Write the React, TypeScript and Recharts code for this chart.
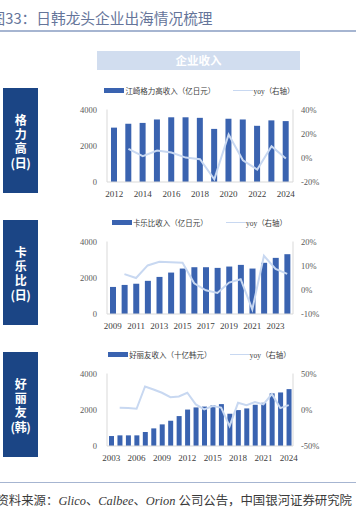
import React from "react";
import { ComposedChart, Bar, Line, XAxis, YAxis } from "recharts";

const glicoYears = ["2012","2013","2014","2015","2016","2017","2018","2019","2020","2021","2022","2023","2024"];
const glicoRevenue = [3000, 3220, 3260, 3450, 3570, 3570, 3540, 2930, 3490, 3450, 3100, 3400, 3360];
const glicoYoy = [null, 7.4, 1.3, 6.0, 4.4, 0.2, -1.2, -17.7, 19.3, -2.0, -9.7, 9.6, -0.6];

const calbeeYears = ["2009","2010","2011","2012","2013","2014","2015","2016","2017","2018","2019","2020","2021","2022","2023","2024"];
const calbeeRevenue = [1493, 1604, 1670, 1830, 2046, 2286, 2507, 2581, 2581, 2544, 2618, 2710, 2507, 2825, 3097, 3300];
const calbeeYoy = [null, 6.5, 4.9, 10.1, 11.6, 11.4, 11.2, 2.7, -0.2, -1.3, 3.0, 4.4, -8.1, 14.1, 8.7, 6.6];

const orionYears = ["2003","2004","2005","2006","2007","2008","2009","2010","2011","2012","2013","2014","2015","2016","2017","2018","2019","2020","2021","2022","2023","2024"];
const orionRevenue = [550, 587, 587, 587, 771, 972, 1193, 1394, 1651, 2010, 2128, 2175, 2239, 2312, 1780, 1982, 2073, 2275, 2385, 2905, 2954, 3138];
const orionYoy = [null, 2.8, 2.3, 1.4, 32.1, 28.0, 23.4, 17.4, 18.3, 23.4, 7.3, 0.5, 5.0, 3.0, -22.5, 9.6, 6.4, 10.6, 7.3, 21.6, 2.3, 6.4];

const leftTicks = [0, 2000, 4000];
const glicoRightTicks = [-20, 0, 20, 40];
const calbeeRightTicks = [-10, 0, 10, 20];
const orionRightTicks = [-50, 0, 50];

const titleText = "图33：日韩龙头企业出海情况梳理";
const headerText = "企业收入";
const companyLabels = ["格\n力\n高\n(日)", "卡\n乐\n比\n(日)", "好\n丽\n友\n(韩)"];
const barLegends = ["江崎格力高收入（亿日元）", "卡乐比收入（亿日元）", "好丽友收入（十亿韩元）"];
const lineLegend = "yoy（右轴）";

const BAR = "#3a63b0";
const LINE = "#c8d8f1";
const AXIS = "#d9d9d9";
const SERIF = "'Liberation Serif', 'Noto Sans CJK SC', serif";

function build(years: string[], rev: number[], yoy: (number | null)[]) {
  return years.map((y, i) => ({ year: y, rev: rev[i], yoy: yoy[i] }));
}

type PanelProps = {
  top: number;
  data: { year: string; rev: number; yoy: number | null }[];
  rightTicks: number[];
  interval: number;
  barSize: number;
  legend: string;
};

function Panel({ top, data, rightTicks, interval, barSize, legend }: PanelProps) {
  return (
    <div style={{ position: "absolute", left: 0, top, width: 356, height: 120 }}>
      <div
        style={{
          position: "absolute",
          left: 43,
          top: 5,
          width: 313,
          height: 11,
          display: "flex",
          justifyContent: "center",
          alignItems: "center",
          fontFamily: SERIF,
          fontSize: 7.5,
          color: "#404040",
          whiteSpace: "nowrap",
        }}
      >
        <span style={{ display: "inline-block", width: 20, height: 5, background: BAR }} />
        <span style={{ marginLeft: 1 }}>{legend}</span>
        <span style={{ display: "inline-block", width: 20, height: 1.5, background: LINE, marginLeft: 18 }} />
        <span>{lineLegend}</span>
      </div>
      <ComposedChart
        width={356}
        height={120}
        data={data}
        margin={{ top: 29.5, right: 0, bottom: 0, left: 0 }}
      >
        <XAxis
          dataKey="year"
          interval={interval}
          height={18}
          tickLine={false}
          tickSize={0}
          tickMargin={9}
          axisLine={{ stroke: AXIS }}
          tick={{ fontSize: 9, fill: "#404040", fontFamily: SERIF }}
        />
        <YAxis
          yAxisId="left"
          width={107}
          domain={[0, 4000]}
          ticks={leftTicks}
          tickLine={false}
          tickSize={0}
          tickMargin={10}
          axisLine={{ stroke: AXIS }}
          tick={{ fontSize: 8.5, fill: "#595959", fontFamily: SERIF }}
        />
        <YAxis
          yAxisId="right"
          orientation="right"
          width={63}
          domain={[rightTicks[0], rightTicks[rightTicks.length - 1]]}
          ticks={rightTicks}
          tickFormatter={(v: number) => `${v}%`}
          tickLine={false}
          tickSize={0}
          tickMargin={8}
          axisLine={{ stroke: AXIS }}
          tick={{ fontSize: 8.5, fill: "#595959", fontFamily: SERIF, textAnchor: "start" }}
        />
        <Bar yAxisId="left" dataKey="rev" fill={BAR} barSize={barSize} isAnimationActive={false} />
        <Line
          yAxisId="right"
          dataKey="yoy"
          type="linear"
          stroke={LINE}
          strokeWidth={2}
          dot={false}
          activeDot={false}
          isAnimationActive={false}
        />
      </ComposedChart>
    </div>
  );
}

function SideBox({ top, label }: { top: number; label: string }) {
  return (
    <div
      style={{
        position: "absolute",
        left: 3,
        top,
        width: 35,
        height: 105,
        background: "#1b4585",
      }}
    >
      <div
        style={{
          position: "absolute",
          left: 0,
          top: 24.9,
          width: 35,
          color: "#ffffff",
          fontFamily: "'Noto Sans CJK SC', sans-serif",
          fontWeight: 700,
          fontSize: 12,
          lineHeight: "14.3px",
          textAlign: "center",
          whiteSpace: "pre-line",
          letterSpacing: -0.3,
        }}
      >
        {label}
      </div>
    </div>
  );
}

export default function App() {
  return (
    <div style={{ position: "absolute", left: 0, top: 0, width: 356, height: 512, background: "#fff", overflow: "hidden" }}>
      <div
        style={{
          position: "absolute",
          left: -9.4,
          width: 400,
          top: 8,
          height: 20,
          lineHeight: "20px",
          whiteSpace: "nowrap",
          fontFamily: "'Noto Sans CJK SC', sans-serif",
          fontSize: 14.7,
          color: "#65759a",
        }}
      >
        {titleText}
      </div>
      <div style={{ position: "absolute", left: 0, top: 30, width: 356, height: 1.5, background: "#a6b5d1" }} />
      <div
        style={{
          position: "absolute",
          left: 97,
          top: 51,
          width: 203,
          height: 18.5,
          background: "#d1ddef",
          color: "#fff",
          fontFamily: "'Noto Sans CJK SC', sans-serif",
          fontWeight: 700,
          fontSize: 11.5,
          lineHeight: "18.5px",
          textAlign: "center",
        }}
      >
        {headerText}
      </div>
      <SideBox top={88} label={companyLabels[0]} />
      <SideBox top={220} label={companyLabels[1]} />
      <SideBox top={352} label={companyLabels[2]} />
      <Panel top={80} data={build(glicoYears, glicoRevenue, glicoYoy)} rightTicks={glicoRightTicks} interval={1} barSize={6} legend={barLegends[0]} />
      <Panel top={212} data={build(calbeeYears, calbeeRevenue, calbeeYoy)} rightTicks={calbeeRightTicks} interval={1} barSize={6} legend={barLegends[1]} />
      <Panel top={344} data={build(orionYears, orionRevenue, orionYoy)} rightTicks={orionRightTicks} interval={2} barSize={5} legend={barLegends[2]} />
      <div style={{ position: "absolute", left: 0, top: 482, width: 356, height: 1, background: "#a6b5d1" }} />
      <div
        style={{
          position: "absolute",
          right: 4,
          width: 600,
          top: 493,
          height: 17,
          lineHeight: "17px",
          textAlign: "right",
          whiteSpace: "nowrap",
          fontFamily: "'Liberation Serif', 'Noto Sans CJK SC', serif",
          fontSize: 12.4,
          color: "#3a3a3a",
        }}
      >
        资料来源：<i>Glico</i>、<i>Calbee</i>、<i>Orion</i> 公司公告，中国银河证券研究院
      </div>
    </div>
  );
}
